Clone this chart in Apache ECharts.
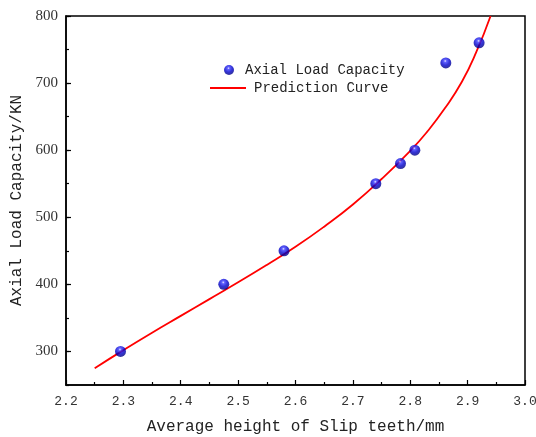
<!DOCTYPE html>
<html>
<head>
<meta charset="utf-8">
<script src="https://cdn.jsdelivr.net/npm/echarts@6/dist/echarts.min.js"></script>
<style>
    html, body { margin: 0; padding: 0; background: #fff; }
    #main { width: 536px; height: 437px; }
</style>
</head>
<body>
<div id="main"></div>
<script>
// measured points
var heightX = [2.295, 2.475, 2.58, 2.74, 2.783, 2.808, 2.862, 2.92];
var loadY = [300, 400, 450, 550, 580, 600, 730, 760];

// prediction curve
var curveX = [2.25, 2.30, 2.35, 2.40, 2.45, 2.50, 2.55, 2.60, 2.65, 2.70, 2.75, 2.80, 2.83, 2.86, 2.89, 2.915, 2.94];
var curveY = [275, 302, 328, 353, 378, 403, 429, 456, 486, 519, 557, 599, 628, 662, 702, 746, 800];

var yMajor = [300, 400, 500, 600, 700, 800];

var chartDom = document.getElementById('main');
var myChart = echarts.init(chartDom);
var option;

var pts = heightX.map(function (x, i) { return [x, loadY[i]]; });
var curve = curveX.map(function (x, i) { return [x, curveY[i]]; });

var ballColor = {
    type: 'radial', x: 0.45, y: 0.32, r: 0.7,
    colorStops: [
        { offset: 0, color: '#e6e6ff' },
        { offset: 0.18, color: '#3a3aff' },
        { offset: 0.55, color: '#0000cc' },
        { offset: 1, color: '#00007a' }
    ]
};

option = {
    animation: false,
    textStyle: { fontFamily: 'Liberation Mono' },
    grid: {
        left: 66,
        right: 11,
        top: 16,
        bottom: 52,
        outerBoundsMode: 'none',
        show: true,
        borderColor: '#000',
        borderWidth: 1.5
    },
    legend: [
        {
            left: 224,
            top: 63,
            padding: 0,
            itemWidth: 10,
            itemHeight: 10,
            textStyle: { fontFamily: 'Liberation Mono', fontSize: 14, color: '#222', padding: [0, 0, 0, 6] },
            data: [{ name: 'Axial Load Capacity', icon: 'circle' }]
        },
        {
            left: 210,
            top: 81,
            padding: 0,
            itemWidth: 36,
            itemHeight: 2,
            textStyle: { fontFamily: 'Liberation Mono', fontSize: 14, color: '#222', padding: [0, 0, 0, 3] },
            data: [{ name: 'Prediction Curve', icon: 'rect' }]
        }
    ],
    xAxis: {
        type: 'value',
        min: 2.2,
        max: 3.0,
        interval: 0.1,
        splitLine: { show: false },
        axisLine: { show: true, lineStyle: { color: '#000', width: 1.5 } },
        axisTick: { show: true, inside: true, length: 5, lineStyle: { color: '#000', width: 1.2 } },
        minorTick: { show: true, splitNumber: 2, length: 3, lineStyle: { color: '#000', width: 1.2 } },
        axisLabel: {
            margin: 10,
            fontFamily: 'Liberation Mono',
            fontSize: 13,
            color: '#333',
            formatter: function (v) { return v.toFixed(1); }
        },
        name: 'Average height of Slip teeth/mm',
        nameLocation: 'middle',
        nameGap: 34,
        nameTextStyle: { fontFamily: 'Liberation Mono', fontSize: 16, color: '#222' }
    },
    yAxis: [
        {
            type: 'value',
            min: 250,
            max: 800,
            position: 'left',
            splitLine: { show: false },
            axisLine: { show: true, lineStyle: { color: '#000', width: 1.5 } },
            axisTick: { show: true, inside: true, length: 5, customValues: yMajor, lineStyle: { color: '#000', width: 1.2 } },
            axisLabel: {
                margin: 8,
                fontFamily: 'Liberation Serif',
                fontSize: 15,
                color: '#333',
                customValues: yMajor
            },
            name: 'Axial Load Capacity/KN',
            nameLocation: 'middle',
            nameGap: 31,
            nameTextStyle: { fontFamily: 'Liberation Mono', fontSize: 16, color: '#222' }
        },
        {
            // minor ticks only
            type: 'value',
            min: 250,
            max: 800,
            interval: 50,
            position: 'left',
            splitLine: { show: false },
            axisLine: { show: false },
            axisTick: { show: true, inside: true, length: 3, lineStyle: { color: '#000', width: 1.2 } },
            axisLabel: { show: false }
        }
    ],
    series: [
        {
            name: 'Prediction Curve',
            type: 'line',
            data: curve,
            smooth: 0.5,
            showSymbol: false,
            lineStyle: { color: '#ff0000', width: 1.8 },
            itemStyle: { color: '#ff0000' },
            z: 2
        },
        {
            name: 'Axial Load Capacity',
            type: 'scatter',
            data: pts,
            symbol: 'circle',
            symbolSize: 11,
            itemStyle: { color: ballColor },
            z: 3
        }
    ]
};
option && myChart.setOption(option);
</script>
</body>
</html>
